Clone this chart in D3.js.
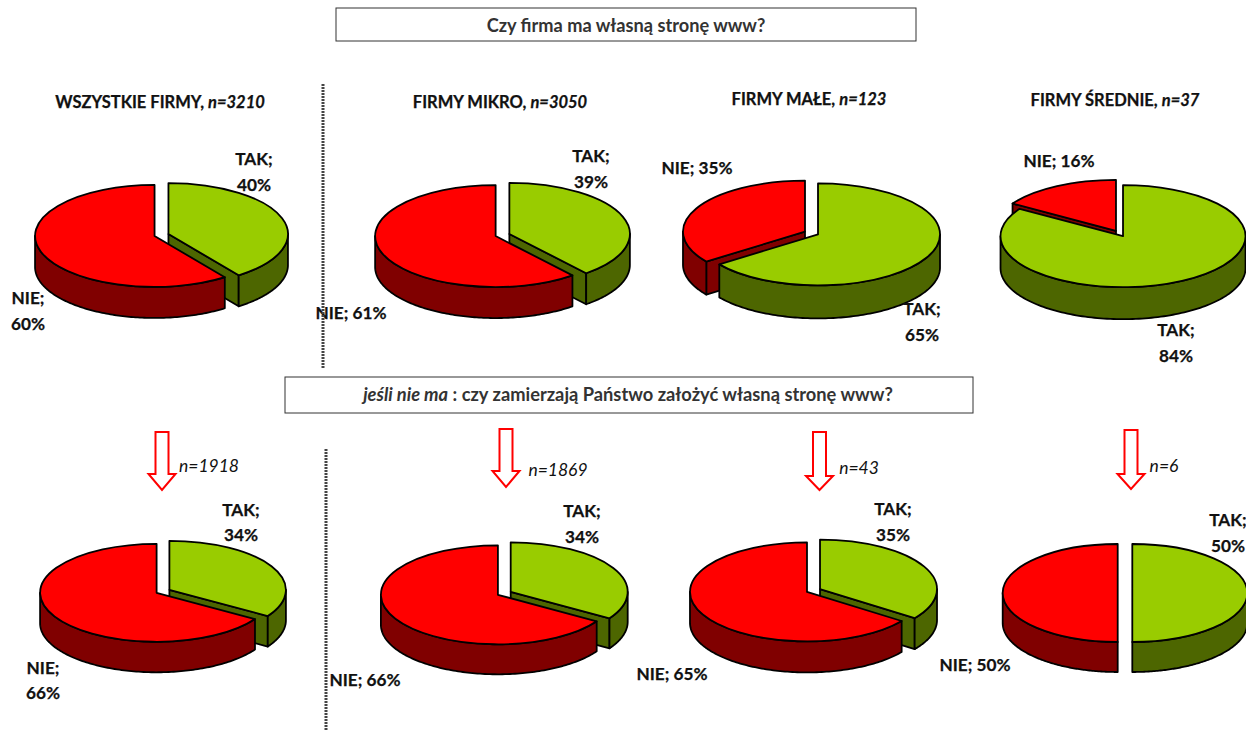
<!DOCTYPE html>
<html>
<head>
<meta charset="utf-8">
<script src="https://cdn.jsdelivr.net/npm/d3@7"></script>
<style>
  body { margin: 0; background: #fff; }
  svg { display: block; }
  text { font-family: Lato, "Noto Sans", sans-serif; fill: #111; }
  text.heavy { stroke: #111; stroke-width: 0.25; }
</style>
</head>
<body>
<div id="chart"></div>
<script>
// values, top row then bottom row
const sliceNames = ["TAK", "NIE"]
const takValues = [40, 39, 65, 84, 34, 34, 35, 50]
const nieValues = [60, 61, 35, 16, 66, 66, 65, 50]

const groupNames = ["WSZYSTKIE FIRMY, ", "FIRMY MIKRO, ", "FIRMY MAŁE, ", "FIRMY ŚREDNIE, "]
const groupCounts = ["n=3210", "n=3050", "n=123", "n=37"]
const followCounts = ["n=1918", "n=1869", "n=43", "n=6"]

const question1 = "Czy firma ma własną stronę www?"
const question2Italic = "jeśli nie ma"
const question2 = " : czy zamierzają Państwo założyć własną stronę www?"

// layout, one row per pie: cx, cy, rx, ry, depth
const pieLayout = [
    [161.5, 235, 119.5, 51, 31],
    [502.5, 235, 120.5, 51, 31],
    [811.5, 233, 122, 51, 33],
    [1119.5, 233.5, 122.5, 51, 32],
    [163, 591.3, 116.5, 49, 30.5],
    [504.3, 593.3, 117, 49.5, 30],
    [813.5, 590.5, 117, 49.5, 31],
    [1125, 593, 115, 49, 30]
]
// label anchor per pie: tak lines, nie lines (one or two lines)
const labelLayout = [
    { tak: [254, 165, 191], nie: [28, 304, 330], takTwo: true, nieTwo: true },
    { tak: [591, 162, 188], nie: [351, 319], takTwo: true, nieTwo: false },
    { tak: [922, 315, 341], nie: [697, 174], takTwo: true, nieTwo: false },
    { tak: [1176, 336, 362], nie: [1059, 167], takTwo: true, nieTwo: false },
    { tak: [241, 516, 541], nie: [43, 674, 699], takTwo: true, nieTwo: true },
    { tak: [582, 517, 543], nie: [365, 686], takTwo: true, nieTwo: false },
    { tak: [893, 515, 541], nie: [672, 680], takTwo: true, nieTwo: false },
    { tak: [1228, 526, 552], nie: [975, 671], takTwo: true, nieTwo: false }
]
const headerLayout = [[160, 107], [500, 107], [809, 104], [1115, 105]]
// arrow: center x, top y, shoulder y, tip y; n label x, y
const arrowLayout = [
    [162, 432, 474, 490, 209, 472],
    [506, 429, 471, 487, 558, 476],
    [819.5, 432, 476, 490, 859, 474],
    [1131, 430, 474, 489, 1164, 472]
]

const w = 1246
const h = 730
const explode = 7.3
const topColor = { TAK: "#99cc00", NIE: "#ff0000" }
const wallColor = { TAK: "#4d6600", NIE: "#800000" }

const svg = d3.select("#chart").append("svg").attr("width", w).attr("height", h)

const pie = d3.pie().sort(null).value(d => d.value)
const line = d3.line()

const drawPie = (i) => {
    const [cx, cy, rx, ry, depth] = pieLayout[i]
    const slices = pie(sliceNames.map(name => ({ name, value: name === "TAK" ? takValues[i] : nieValues[i] })))
    const arc = d3.arc().innerRadius(0).outerRadius(rx)
    const rim = (a) => [rx * Math.sin(a), -ry * Math.cos(a)]
    const down = (p) => [p[0], p[1] + depth]

    // the smaller slice sits behind the bigger one
    slices.sort((a, b) => a.value - b.value)

    slices.forEach(s => {
        const mid = (s.startAngle + s.endAngle) / 2
        const g = svg.append("g")
            .attr("transform", `translate(${cx + Math.sin(mid) * explode}, ${cy - Math.cos(mid) * explode * ry / rx})`)
            .attr("stroke", "#000")
            .attr("stroke-width", 1.8)
            .attr("stroke-linejoin", "round")

        const color = wallColor[s.data.name]

        // cut faces of the slice
        const faces = []
        if (Math.sin(s.endAngle) > 0.001) faces.push(s.endAngle)
        if (Math.sin(s.startAngle) < -0.001) faces.push(s.startAngle)
        faces.forEach(a => {
            const p = rim(a)
            g.append("path")
                .attr("d", line([[0, 0], p, down(p), down([0, 0])]) + "Z")
                .attr("fill", color)
        })

        // outer wall, only the front half of the pie shows
        const lo = Math.max(s.startAngle, Math.PI / 2)
        const hi = Math.min(s.endAngle, Math.PI * 1.5)
        if (hi > lo) {
            const angles = d3.range(0, 121).map(k => lo + (hi - lo) * k / 120)
            const upper = angles.map(rim)
            const lower = upper.map(down).reverse()
            g.append("path")
                .attr("d", line(upper.concat(lower)) + "Z")
                .attr("fill", color)
        }

        // top of the slice
        g.append("path")
            .attr("d", arc(s))
            .attr("transform", `scale(1, ${ry / rx})`)
            .attr("vector-effect", "non-scaling-stroke")
            .attr("fill", topColor[s.data.name])
    })
}

pieLayout.forEach((d, i) => drawPie(i))

// slice labels
const boldText = (x, y, str) => svg.append("text")
    .attr("class", "heavy")
    .attr("x", x).attr("y", y)
    .attr("text-anchor", "middle")
    .attr("font-size", 17.2)
    .attr("font-weight", 700)
    .text(str)

labelLayout.forEach((l, i) => {
    if (l.takTwo) {
        boldText(l.tak[0], l.tak[1], "TAK;")
        boldText(l.tak[0], l.tak[2], takValues[i] + "%")
    } else {
        boldText(l.tak[0], l.tak[1], `TAK; ${takValues[i]}%`)
    }
    if (l.nieTwo) {
        boldText(l.nie[0], l.nie[1], "NIE;")
        boldText(l.nie[0], l.nie[2], nieValues[i] + "%")
    } else {
        boldText(l.nie[0], l.nie[1], `NIE; ${nieValues[i]}%`)
    }
})

// group headers
headerLayout.forEach((p, i) => {
    const t = svg.append("text")
        .attr("class", "heavy")
        .attr("x", p[0]).attr("y", p[1] + 1)
        .attr("text-anchor", "middle")
        .attr("font-size", 16.5)
        .attr("font-weight", 700)
    t.append("tspan").text(groupNames[i])
    t.append("tspan").attr("font-style", "italic").text(groupCounts[i])
})

// question boxes
svg.append("rect")
    .attr("x", 336).attr("y", 8).attr("width", 580).attr("height", 33)
    .attr("fill", "#fff").attr("stroke", "#333").attr("stroke-width", 1)
svg.append("text")
    .attr("x", 626).attr("y", 32)
    .attr("text-anchor", "middle")
    .attr("font-size", 18.2)
    .attr("font-weight", 700)
    .style("fill", "#333")
    .text(question1)

svg.append("rect")
    .attr("x", 285).attr("y", 377).attr("width", 688).attr("height", 36)
    .attr("fill", "#fff").attr("stroke", "#333").attr("stroke-width", 1)
const q2 = svg.append("text")
    .attr("x", 628).attr("y", 401)
    .attr("text-anchor", "middle")
    .attr("font-size", 18.3)
    .attr("font-weight", 700)
    .style("fill", "#333")
q2.append("tspan").attr("font-style", "italic").text(question2Italic)
q2.append("tspan").text(question2)

// dotted separators
const dotted = (x, y1, y2) => svg.append("line")
    .attr("x1", x).attr("x2", x).attr("y1", y1).attr("y2", y2)
    .attr("stroke", "#444")
    .attr("stroke-width", 3)
    .attr("stroke-dasharray", "2 1")
dotted(323, 84, 368)
dotted(326, 449, 730)

// arrows from the top row to the follow up question
arrowLayout.forEach((a, i) => {
    const [x, top, shoulder, tip, nx, ny] = a
    svg.append("path")
        .attr("d", line([
            [x - 6.5, top], [x + 6.5, top], [x + 6.5, shoulder], [x + 13.5, shoulder],
            [x, tip], [x - 13.5, shoulder], [x - 6.5, shoulder]
        ]) + "Z")
        .attr("fill", "#fff")
        .attr("stroke", "#ff0000")
        .attr("stroke-width", 2)
    svg.append("text")
        .attr("x", nx).attr("y", ny)
        .attr("text-anchor", "middle")
        .attr("font-size", 17.5)
        .attr("font-style", "italic")
        .text(followCounts[i])
})
</script>
</body>
</html>
